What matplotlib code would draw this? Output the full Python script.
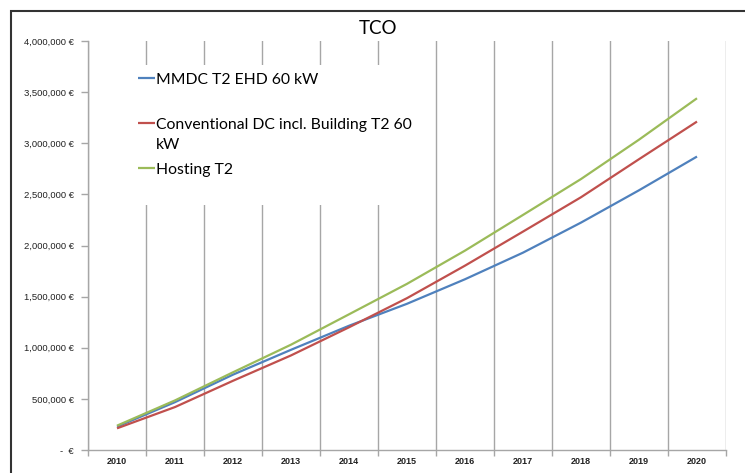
import matplotlib
matplotlib.use("Agg")
import matplotlib.pyplot as plt
from matplotlib.patches import Rectangle
from matplotlib.ticker import FixedLocator, FuncFormatter
from matplotlib.legend_handler import HandlerLine2D
import numpy as np

years = ["2010", "2011", "2012", "2013", "2014", "2015", "2016", "2017", "2018", "2019", "2020"]
mmdc = [228000, 468000, 737000, 980000, 1215000, 1430000, 1670000, 1930000, 2224000, 2540000, 2870000]
conventional = [212000, 420000, 677000, 925000, 1200000, 1485000, 1803000, 2136000, 2472000, 2844000, 3212000]
hosting = [238000, 485000, 760000, 1030000, 1327000, 1625000, 1950000, 2299000, 2650000, 3035000, 3440000]
labels = ["MMDC T2 EHD 60 kW", "Conventional DC incl. Building T2 60\nkW", "Hosting T2"]
colors = ["#4F81BD", "#C0504D", "#9BBB59"]
title = "TCO"

W, H = 745, 473
HANDLE_SHIFT_PT = 8.4  # raise legend line to the first text line of a two-line label


class FirstLineHandler(HandlerLine2D):
    """Align legend line with the first text line of a two-line label."""
    def create_artists(self, legend, orig_handle, xdescent, ydescent, width, height, fontsize, trans):
        arts = super().create_artists(legend, orig_handle, xdescent, ydescent, width, height, fontsize, trans)
        for a in arts:
            a.set_ydata(np.asarray(a.get_ydata(), dtype=float) + HANDLE_SHIFT_PT)
        return arts


fig = plt.figure(figsize=(W / 100, H / 100), dpi=100)
ax = fig.add_axes([88 / W, 1 - 450 / H, (726 - 88) / W, (450 - 41) / H])

x = np.arange(len(years))
lines = []
for vals, lab, c in zip([mmdc, conventional, hosting], labels, colors):
    ln, = ax.plot(x, vals, color=c, lw=1.6, label=lab, solid_capstyle="butt")
    lines.append(ln)

ax.set_xlim(-0.5, len(years) - 0.5)
ax.set_ylim(0, 4000000)
ax.set_xticks(x)
ax.set_xticklabels(years, fontsize=6.5, fontweight="bold", family="Liberation Sans", color="#222222")
ax.xaxis.set_minor_locator(FixedLocator(np.arange(-0.5, len(years), 1.0)))
ax.tick_params(axis="x", which="major", length=0, pad=5)
ax.tick_params(axis="x", which="minor", length=4, color="#A6A6A6", width=1)
ax.grid(True, axis="x", which="minor", color="#A6A6A6", lw=1)

yt = np.arange(0, 4000001, 500000)
ax.set_yticks(yt)
ax.yaxis.set_major_formatter(FuncFormatter(lambda v, p: "-  €" if v == 0 else f"{int(v):,} €"))
ax.tick_params(axis="y", length=5, color="#A6A6A6", width=1, labelsize=6.8, labelcolor="#222222", pad=5)
for t in ax.get_yticklabels():
    t.set_family("Liberation Sans")

for s in ["top", "right"]:
    ax.spines[s].set_visible(False)
for s in ["left", "bottom"]:
    ax.spines[s].set_color("#A6A6A6")
    ax.spines[s].set_linewidth(1)

fig.text(378 / W, 1 - 28 / H, title, ha="center", va="center", fontsize=13.5, family="Lato")

# every legend entry occupies a two-line slot, as in the original
slot_labels = [l if "\n" in l else l + "\n " for l in labels]
leg = ax.legend(lines, slot_labels, loc="upper left",
                bbox_to_anchor=((130 - 88) / (726 - 88), 1 - (65 - 41) / (450 - 41)),
                frameon=True, fancybox=False, edgecolor="none", facecolor="white", framealpha=1,
                prop={"family": "Lato", "size": 11.3}, handlelength=1.1, handletextpad=0.1,
                labelspacing=0.68, borderaxespad=0, borderpad=0.48,
                handler_map={ln: FirstLineHandler() for ln in lines})
for t in leg.get_texts():
    t.set_linespacing(1.58)
leg.set_zorder(5)

fig.patches.append(Rectangle((11 / W, -0.1), 2, 1.1 - 11 / H, transform=fig.transFigure,
                             fill=False, edgecolor="#333333", lw=1.5))

fig.savefig("out.png", dpi=100)
